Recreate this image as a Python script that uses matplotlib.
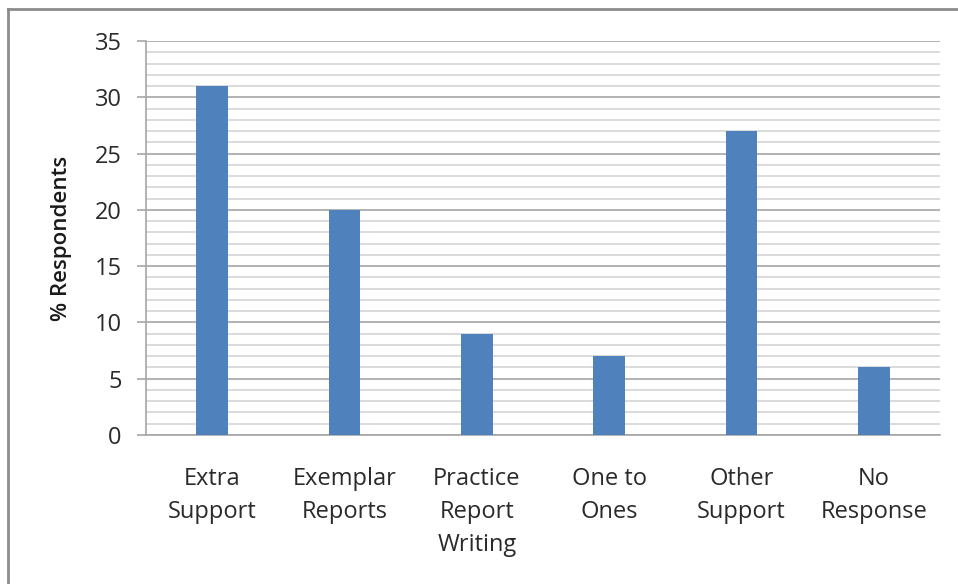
import matplotlib
matplotlib.use("Agg")
import matplotlib.pyplot as plt
from matplotlib.lines import Line2D
from matplotlib.ticker import MultipleLocator

categories = ["Extra\nSupport", "Exemplar\nReports", "Practice\nReport\nWriting",
              "One to\nOnes", "Other\nSupport", "No\nResponse"]
values = [31, 20, 9, 7, 27, 6]
y_ticks = [0, 5, 10, 15, 20, 25, 30, 35]

plt.rcParams['font.family'] = ['Open Sans', 'DejaVu Sans']

W, H = 958, 584
fig = plt.figure(figsize=(W / 100, H / 100), dpi=100)
ax = fig.add_axes([146 / W, 1 - 435 / H, (940 - 146) / W, (435 - 41) / H])

x = range(len(categories))
ax.bar(x, values, width=0.24, color="#4F81BD", zorder=3)

ax.set_xlim(-0.5, len(categories) - 0.5)
ax.set_ylim(0, 35)
ax.set_yticks(y_ticks)
ax.yaxis.set_minor_locator(MultipleLocator(1))
ax.grid(axis="y", which="minor", color="#d4d4d4", linewidth=1.2, zorder=0)
ax.grid(axis="y", which="major", color="#a6a6a6", linewidth=1.2, zorder=1)

ax.set_xticks(list(x))
ax.set_xticklabels(categories, fontsize=17, color="#2a2a2a", linespacing=1.5)
ax.tick_params(axis="x", length=0, pad=23)
ax.tick_params(axis="y", which="major", length=6.5, width=1.2, color="#a6a6a6",
               labelsize=17, labelcolor="#2a2a2a", pad=11)
ax.tick_params(axis="y", which="minor", length=0)

for side in ("top", "right"):
    ax.spines[side].set_visible(False)
ax.spines["left"].set_color("#a6a6a6")
ax.spines["bottom"].set_color("#a6a6a6")
ax.spines["left"].set_linewidth(1.2)
ax.spines["bottom"].set_linewidth(1.2)

ax.set_ylabel("% Respondents", fontsize=16, fontweight="semibold", color="#1a1a1a",
              va="center")
ax.yaxis.set_label_coords((62 - 146) / (940 - 146), 0.5)

# outer chart frame
fig.add_artist(Line2D([8 / W, 8 / W], [0, 1 - 9 / H], color="#8c8c8c", linewidth=2))
fig.add_artist(Line2D([8 / W, 1], [1 - 9 / H, 1 - 9 / H], color="#8c8c8c", linewidth=2))

fig.savefig("out.png", dpi=100)
